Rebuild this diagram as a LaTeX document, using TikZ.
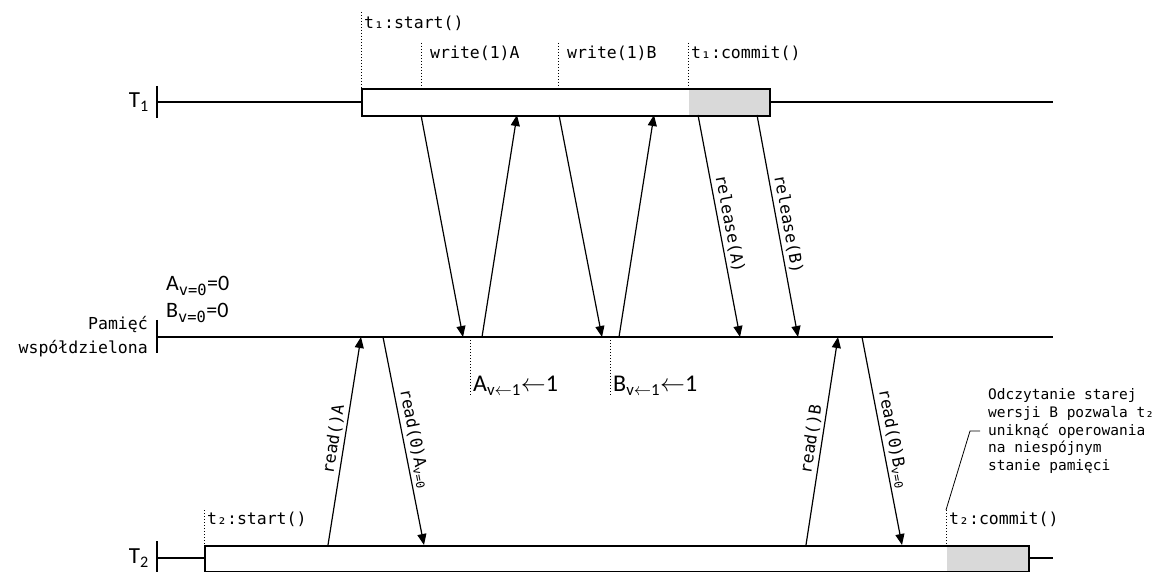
\documentclass[tikz,border=0pt]{standalone}
\usepackage{fontspec}
\setmainfont{Carlito}
\setmonofont{DejaVu Sans Mono}
\usetikzlibrary{arrows.meta,positioning,calc}

\begin{document}
\begin{tikzpicture}[x=1pt, y=-1pt,
    >={Triangle[length=11pt,width=9pt]},
    life/.style={line width=1.6pt},
    txbox/.style={draw, line width=1.6pt, fill=white, inner sep=0pt,
                  minimum height=27pt, anchor=north west,
                  path picture={\fill[black!15]
                    ([xshift=-#1]path picture bounding box.north east)
                    rectangle (path picture bounding box.south east);}},
    msg/.style={->, line width=1.2pt},
    guide/.style={dotted, line width=1pt},
    lead/.style={line width=0.8pt},
    op/.style={font=\ttfamily\fontsize{16.5}{24}\selectfont, inner sep=1pt, anchor=west},
    oplbl/.style={font=\ttfamily\fontsize{16.5}{20}\selectfont, inner sep=3pt, sloped, above},
    note/.style={font=\ttfamily\fontsize{14.5}{17.8}\selectfont, align=left,
                 anchor=west, inner xsep=8pt, inner ysep=0pt},
    proc/.style={font=\fontsize{23}{26}\selectfont, anchor=east, inner sep=1pt},
    val/.style={font=\fontsize{22}{24}\selectfont, anchor=west, inner sep=1pt},
  ]
  \useasboundingbox (0,0) rectangle (1163,572);

  % lifelines
  \draw[life] (157,86) -- (157,118);
  \draw[life] (157,102) -- (1053,102);
  \draw[life] (157,320) -- (157,353);
  \draw[life] (157,337) -- (1053,337);
  \draw[life] (157,541) -- (157,572);
  \draw[life] (157,558) -- (1053,558);

  \node[proc] (T1) at (150,102) {T\textsubscript{1}};
  \node[proc] (T2) at (150,558) {T\textsubscript{2}};
  \node[op, anchor=east, align=right] (mem) at (149,337) {Pamięć\\współdzielona};
  \node[val] (a0) at (165,286) {A\textsubscript{\ttfamily v=0}=0};
  \node[val] (b0) at (165,313) {B\textsubscript{\ttfamily v=0}=0};

  % transactions
  \node[txbox=81pt, minimum width=408pt] (tx1) at (361,88) {};
  \node[txbox=82pt, minimum width=824pt, minimum height=26pt] (tx2) at (204,545) {};

  % operation marks on T1
  \coordinate (g1) at (361,12);
  \coordinate (g2) at (421,43);
  \coordinate (g3) at (558,43);
  \coordinate (g4) at (688,43);
  \node[op] (st1) at (363,23) {t₁:start()};
  \node[op] (wa)  at (429,53) {write(1)A};
  \node[op] (wb)  at (566,53) {write(1)B};
  \node[op] (cm1) at (690,53) {t₁:commit()};
  \foreach \g in {g1,g2,g3,g4}
    \draw[guide] (\g) -- (\g |- tx1.north);

  % operation marks on T2
  \coordinate (h1) at (204,510);
  \coordinate (h2) at (946,510);
  \node[op] (st2) at (206,519) {t₂:start()};
  \node[op] (cm2) at (948,519) {t₂:commit()};
  \foreach \g in {h1,h2}
    \draw[guide] (\g) -- (\g |- tx2.north);

  % new versions in memory
  \coordinate (va) at (470,337);
  \coordinate (vb) at (610,337);
  \node[val, font=\fontsize{24}{26}\selectfont] (na) at (472,386) {A\textsubscript{v$\leftarrow$1}$\leftarrow$1};
  \node[val, font=\fontsize{24}{26}\selectfont] (nb) at (612,386) {B\textsubscript{v$\leftarrow$1}$\leftarrow$1};
  \draw[guide] (va) -- (va |- na.south);
  \draw[guide] (vb) -- (vb |- nb.south);

  % message end points
  \coordinate (t1a) at (421,115);
  \coordinate (t1b) at (517,115);
  \coordinate (t1c) at (559,115);
  \coordinate (t1d) at (654,115);
  \coordinate (t1e) at (698,115);
  \coordinate (t1f) at (757,115);
  \coordinate (m1) at (463,337);
  \coordinate (m2) at (482,337);
  \coordinate (m3) at (602,337);
  \coordinate (m4) at (619,337);
  \coordinate (m5) at (740,337);
  \coordinate (m6) at (798,337);
  \coordinate (m7) at (361,337);
  \coordinate (m8) at (383,337);
  \coordinate (m9) at (838,337);
  \coordinate (m10) at (862,337);
  \coordinate (t2a) at (328,545);
  \coordinate (t2b) at (424,545);
  \coordinate (t2c) at (806,545);
  \coordinate (t2d) at (902,545);

  % T1 <-> memory
  \draw[msg] (t1a) -- (m1);
  \draw[msg] (m2) -- (t1b);
  \draw[msg] (t1c) -- (m3);
  \draw[msg] (m4) -- (t1d);
  \draw[msg] (t1e) -- node[oplbl] {release(A)} (m5);
  \draw[msg] (t1f) -- node[oplbl] {release(B)} (m6);

  % T2 <-> memory
  \draw[msg] (t2a) -- node[oplbl] {read()A} (m7);
  \draw[msg] (m8) -- node[oplbl] {read(0)A\textsubscript{v=0}} (t2b);
  \draw[msg] (t2c) -- node[oplbl] {read()B} (m9);
  \draw[msg] (m10) -- node[oplbl] {read(0)B\textsubscript{v=0}} (t2d);

  % remark
  \node[note] (rem) at (980,431)
    {Odczytanie starej\\wersji B pozwala t₂\\uniknąć operowania\\na niespójnym\\stanie pamięci};
  \draw[lead] (h2) -- ($(rem.west)+(-10,0)$) -- (rem.west);

\end{tikzpicture}
\end{document}
